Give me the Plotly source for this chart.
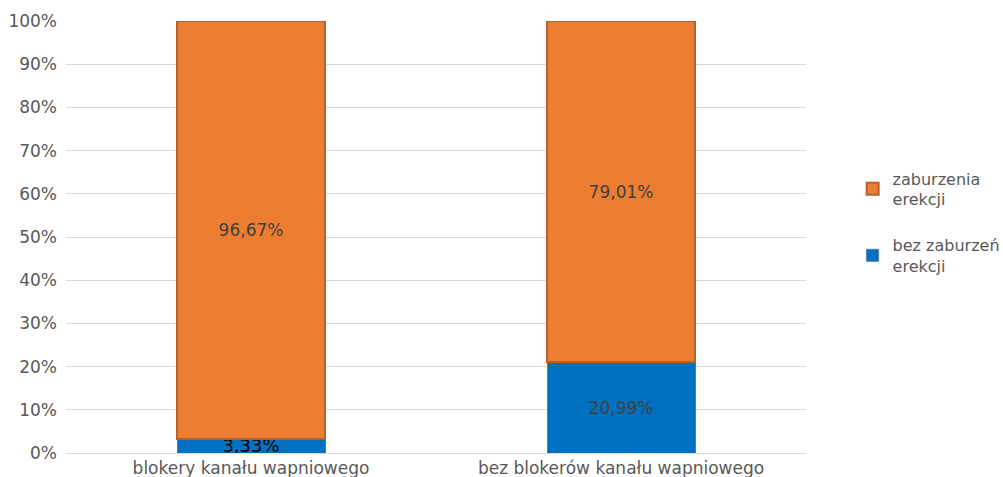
import plotly.graph_objects as go

categories = ["blokery kanału wapniowego", "bez blokerów kanału wapniowego"]
bez_zaburzen = [3.33, 20.99]
zaburzenia = [96.67, 79.01]
series_names = ["bez zaburzeń<br>erekcji", "zaburzenia<br>erekcji"]
tick_vals = [0, 10, 20, 30, 40, 50, 60, 70, 80, 90, 100]
tick_text = [f"{v}%" for v in tick_vals]

def fmt(v):
    return f"{v:.2f}".replace(".", ",") + "%"

font_family = "'DejaVu Sans', sans-serif"

fig = go.Figure()
fig.add_trace(go.Bar(
    x=categories, y=bez_zaburzen, name=series_names[0], legendgroup="g1",
    legendrank=2,
    marker=dict(color="#0070C0", line=dict(color="#4d7fae", width=1)),
    text=[fmt(v) for v in bez_zaburzen], textposition="inside",
    insidetextanchor="middle", constraintext="none",
    textfont=dict(size=[18, 17], color=["#000000", "#404040"], family=font_family),
))
fig.add_trace(go.Bar(
    x=categories, y=zaburzenia, name=series_names[1], legendgroup="g2",
    legendrank=1,
    marker=dict(color="#ED7D31", line=dict(color="#B8612A", width=2)),
    text=[fmt(v) for v in zaburzenia], textposition="inside",
    insidetextanchor="middle", constraintext="none",
    textfont=dict(size=17, color="#404040", family=font_family),
))

fig.update_layout(
    barmode="stack", bargap=0.6,
    width=1003, height=477,
    margin=dict(l=66, r=197, t=21, b=24, autoexpand=False),
    paper_bgcolor="white", plot_bgcolor="white",
    font=dict(family=font_family, size=17, color="#595959"),
    showlegend=True,
    legend=dict(x=1.063, y=0.675, xanchor="left", yanchor="top",
                font=dict(size=16, color="#595959"), traceorder="grouped",
                tracegroupgap=22, itemwidth=30, bgcolor="rgba(0,0,0,0)"),
    xaxis=dict(showgrid=False, showline=True, linecolor="#d9d9d9", linewidth=1,
               ticks="", automargin=False, ticklabelstandoff=0,
               tickfont=dict(size=17, color="#595959")),
    yaxis=dict(range=[0, 100], tickvals=tick_vals, ticktext=tick_text,
               showgrid=True, gridcolor="#d9d9d9", gridwidth=1, zeroline=False,
               ticks="", ticklabelstandoff=8, automargin=False,
               tickfont=dict(size=17, color="#595959")),
)

fig.write_html("out.html")
